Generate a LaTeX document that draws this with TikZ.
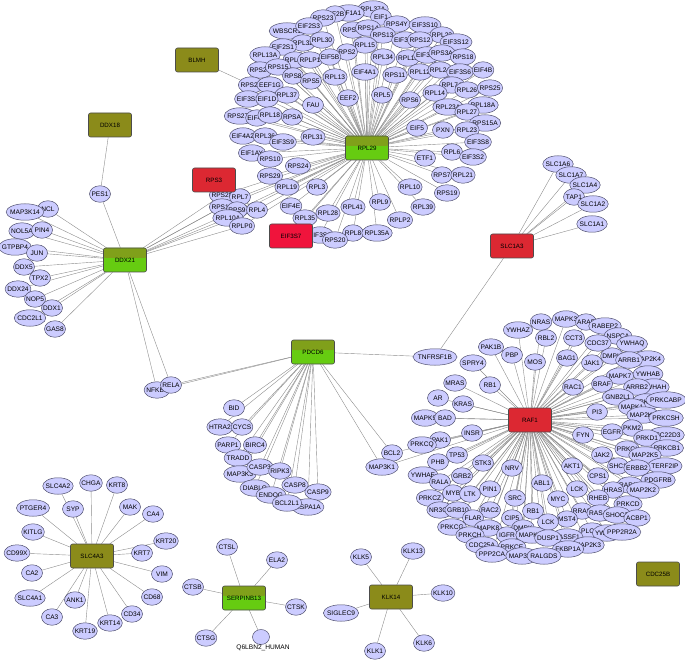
\documentclass[tikz,border=0pt]{standalone}
\usepackage{fontspec}
\setmainfont{Liberation Sans}
\usetikzlibrary{shapes.geometric,backgrounds}
\definecolor{genefill}{HTML}{CCCCFF}
\definecolor{geneline}{HTML}{50506E}
\definecolor{olivehub}{HTML}{8B8B1A}
\definecolor{redhub}{HTML}{DC2832}
\definecolor{pinkhub}{HTML}{F0143C}
\definecolor{greentop}{HTML}{80A01A}
\definecolor{greenbot}{HTML}{66CC11}
\definecolor{wirecol}{HTML}{8C8C8C}
\tikzset{
  gene/.style={ellipse, draw=geneline, fill=genefill, line width=0.5pt,
    inner xsep=-1.5pt, inner ysep=1pt, minimum height=16.5pt, minimum width=21pt,
    font=\fontsize{6.6}{7}\selectfont},
  hub/.style={rectangle, rounded corners=2pt, draw=black!70, line width=0.6pt,
    minimum width=43pt, minimum height=24pt, font=\fontsize{6.2}{7}\selectfont},
  olivebox/.style={hub, fill=olivehub},
  redbox/.style={hub, fill=redhub},
  pinkbox/.style={hub, fill=pinkhub},
  greenbox/.style={hub, fill=greenbot, path picture={\fill[greentop]
    (path picture bounding box.north west) rectangle ([yshift=2pt]path picture bounding box.east);}},
  wire/.style={draw=wirecol, line width=0.4pt}
}
\begin{document}
\begin{tikzpicture}[x=1pt,y=-1pt]
\useasboundingbox (0,0) rectangle (685,660);
% RPL29 cluster
\path node[gene] (rpl37a) at (373,9) {RPL37A}
node[gene] (eef1a1) at (349,13) {EEF1A1}
node[gene] (eif2b) at (335,14) {EIF2B}
node[gene] (eif1) at (381,17) {EIF1}
node[gene] (rps23) at (323,18) {RPS23}
node[gene] (wbscr1) at (287,31) {WBSCR1}
node[gene] (eif2s3) at (309,26) {EIF2S3}
node[gene] (rps16) at (353,30) {RPS16}
node[gene] (rps14) at (368,28) {RPS14}
node[gene] (rps4y) at (397,24) {RPS4Y}
node[gene] (eif3s10) at (425,25) {EIF3S10}
node[gene] (rpl22) at (442,35) {RPL22}
node[gene] (eif3s12) at (456,42) {EIF3S12}
node[gene] (rps13) at (383,35) {RPS13}
node[gene] (eif3s4) at (405,40) {EIF3S4}
node[gene] (rps12) at (420,40) {RPS12}
node[gene] (rpl32) at (303,43) {RPL32}
node[gene] (rpl30) at (322,40) {RPL30}
node[gene] (eif2s1) at (283,47) {EIF2S1}
node[gene] (rpl13a) at (265,55) {RPL13A}
node[gene] (rpl15) at (365,45) {RPL15}
node[gene] (rps2) at (347,52) {RPS2}
node[gene] (rpl34) at (383,57) {RPL34}
node[gene] (rpl11) at (408,58) {RPL11}
node[gene] (eif3s5) at (427,55) {EIF3S5}
node[gene] (rps3a) at (442,53) {RPS3A}
node[gene] (rps18) at (463,57) {RPS18}
node[gene] (rpl38) at (295,60) {RPL38}
node[gene] (rplp1) at (310,60) {RPLP1}
node[gene] (eif5b) at (330,57) {EIF5B}
node[gene] (rps27) at (260,70) {RPS27}
node[gene] (rps15) at (278,67) {RPS15}
node[gene] (eif4a1) at (365,72) {EIF4A1}
node[gene] (rps11) at (395,75) {RPS11}
node[gene] (rpl12) at (420,72) {RPL12}
node[gene] (rpl24) at (440,70) {RPL24}
node[gene] (eif3s6) at (460,72) {EIF3S6}
node[gene] (eif4b) at (483,70) {EIF4B}
node[gene] (rps8) at (293,76) {RPS8}
node[gene] (rpl13) at (335,77) {RPL13}
node[gene] (rps5) at (311,81) {RPS5}
node[gene] (rps21) at (251,85) {RPS21}
node[gene] (eef1g) at (270,85) {EEF1G}
node[gene] (rpl7a) at (452,85) {RPL7A}
node[gene] (rpl26) at (467,90) {RPL26}
node[gene] (rps25) at (490,88) {RPS25}
node[gene] (rpl14) at (435,93) {RPL14}
node[gene] (rpl5) at (382,95) {RPL5}
node[gene] (rpl37) at (287,95) {RPL37}
node[gene] (eef2) at (348,98) {EEF2}
node[gene] (eif3s3) at (248,99) {EIF3S3}
node[gene] (eif1d) at (267,99) {EIF1D}
node[gene] (rps6) at (410,100) {RPS6}
node[gene] (fau) at (313,105) {FAU}
node[gene] (rpl18a) at (483,105) {RPL18A}
node[gene] (rpl23a) at (448,107) {RPL23A}
node[gene] (rpl27) at (467,112) {RPL27}
node[gene] (rps27a) at (240,116) {RPS27A}
node[gene] (eif4g) at (257,118) {EIF4G}
node[gene] (rpl18) at (270,115) {RPL18}
node[gene] (rpsa) at (292,117) {RPSA}
node[gene] (rps15a) at (485,123) {RPS15A}
node[gene] (eif5) at (417,128) {EIF5}
node[gene] (pxn) at (443,130) {PXN}
node[gene] (rpl23) at (467,130) {RPL23}
node[gene] (eif4a2) at (243,136) {EIF4A2}
node[gene] (rpl36) at (265,136) {RPL36}
node[gene] (rpl31) at (313,137) {RPL31}
node[gene] (eif3s9) at (283,142) {EIF3S9}
node[gene] (eif3s8) at (478,142) {EIF3S8}
node[gene] (rpl6) at (452,152) {RPL6}
node[gene] (eif1ay) at (252,153) {EIF1AY}
node[gene] (etf1) at (425,158) {ETF1}
node[gene] (eif3s2) at (473,157) {EIF3S2}
node[gene] (rps10) at (270,159) {RPS10}
node[gene] (rps24) at (298,166) {RPS24}
node[gene] (rps29) at (270,176) {RPS29}
node[gene] (rps7) at (442,175) {RPS7}
node[gene] (rpl21) at (463,175) {RPL21}
node[gene] (rpl19) at (287,187) {RPL19}
node[gene] (rpl3) at (317,187) {RPL3}
node[gene] (rpl10) at (410,187) {RPL10}
node[gene] (rps19) at (447,193) {RPS19}
node[gene] (rps28) at (222,195) {RPS28}
node[gene] (rpl7) at (240,197) {RPL7}
node[gene] (rpl9) at (380,202) {RPL9}
node[gene] (rps17) at (222,207) {RPS17}
node[gene] (eif4e) at (291,206) {EIF4E}
node[gene] (rpl41) at (353,207) {RPL41}
node[gene] (rpl39) at (423,207) {RPL39}
node[gene] (rps9) at (237,210) {RPS9}
node[gene] (rpl4) at (257,210) {RPL4}
node[gene] (rpl28) at (328,213) {RPL28}
node[gene] (rpl10a) at (228,218) {RPL10A}
node[gene] (rpl35) at (305,218) {RPL35}
node[gene] (rplp2) at (400,220) {RPLP2}
node[gene] (rplp0) at (242,226) {RPLP0}
node[gene] (rpl8) at (353,233) {RPL8}
node[gene] (rpl35a) at (377,233) {RPL35A}
node[gene] (eif3s1) at (320,235) {EIF3S1}
node[gene] (rps20) at (335,240) {RPS20}
;
% DDX21 cluster
\path node[gene] (ncl) at (48,209) {NCL}
node[gene] (map3k14) at (25,212) {MAP3K14}
node[gene] (pes1) at (100,194) {PES1}
node[gene] (nol5a) at (22,231) {NOL5A}
node[gene] (pin4) at (42,230) {PIN4}
node[gene] (gtpbp4) at (15,247) {GTPBP4}
node[gene] (jun) at (37,253) {JUN}
node[gene] (ddx5) at (24,267) {DDX5}
node[gene] (tpx2) at (40,278) {TPX2}
node[gene] (ddx24) at (18,289) {DDX24}
node[gene] (nop5) at (35,299) {NOP5}
node[gene] (ddx1) at (52,308) {DDX1}
node[gene] (cdc2l1) at (30,318) {CDC2L1}
node[gene] (gas8) at (55,329) {GAS8}
node[gene] (nfkb1) at (157,390) {NFKB1}
node[gene] (rela) at (171,385) {RELA}
;
% SLC1A3 cluster
\path node[gene] (slc1a6) at (558,164) {SLC1A6}
node[gene] (slc1a7) at (571,175) {SLC1A7}
node[gene] (slc1a4) at (585,185) {SLC1A4}
node[gene] (tap1) at (574,197) {TAP1}
node[gene] (slc1a2) at (593,204) {SLC1A2}
node[gene] (slc1a1) at (592,224) {SLC1A1}
node[gene] (tnfrsf1b) at (435,357) {TNFRSF1B}
;
% PDCD6 cluster
\path node[gene] (bid) at (234,408) {BID}
node[gene] (htra2) at (220,427) {HTRA2}
node[gene] (cycs) at (242,427) {CYCS}
node[gene] (parp1) at (228,445) {PARP1}
node[gene] (birc4) at (255,445) {BIRC4}
node[gene] (tradd) at (238,458) {TRADD}
node[gene] (map3k3) at (240,474) {MAP3K3}
node[gene] (casp3) at (260,467) {CASP3}
node[gene] (ripk3) at (280,471) {RIPK3}
node[gene] (diablo) at (255,488) {DIABLO}
node[gene] (casp8) at (295,485) {CASP8}
node[gene] (endog) at (271,495) {ENDOG}
node[gene] (casp9) at (318,492) {CASP9}
node[gene] (hspa1a) at (308,507) {HSPA1A}
node[gene] (bcl2l1) at (287,503) {BCL2L1}
node[gene] (bcl2) at (392,453) {BCL2}
node[gene] (map3k1) at (382,467) {MAP3K1}
;
% RAF1 cluster
\path node[gene] (mapk3) at (566,319) {MAPK3}
node[gene] (nras) at (541,322) {NRAS}
node[gene] (araf) at (586,322) {ARAF}
node[gene] (rabep2) at (605,326) {RABEP2}
node[gene] (ywhaz) at (518,330) {YWHAZ}
node[gene] (nspca) at (618,336) {NSPCA}
node[gene] (rbl2) at (546,338) {RBL2}
node[gene] (cct3) at (574,338) {CCT3}
node[gene] (cdc37) at (598,343) {CDC37}
node[gene] (ywhaq) at (632,344) {YWHAQ}
node[gene] (pak1b) at (491,347) {PAK1B}
node[gene] (pbp) at (512,355) {PBP}
node[gene] (dmpk) at (612,356) {DMPK}
node[gene] (map2k4) at (648,359) {MAP2K4}
node[gene] (arrb1) at (629,360) {ARRB1}
node[gene] (bag1) at (567,358) {BAG1}
node[gene] (mos) at (535,362) {MOS}
node[gene] (spry4) at (473,363) {SPRY4}
node[gene] (jak1) at (592,363) {JAK1}
node[gene] (mapk7) at (620,376) {MAPK7}
node[gene] (ywhab) at (648,374) {YWHAB}
node[gene] (mras) at (455,383) {MRAS}
node[gene] (rb1a) at (490,385) {RB1}
node[gene] (braf) at (602,384) {BRAF}
node[gene] (rac1) at (573,387) {RAC1}
node[gene] (ywhah) at (654,387) {YWHAH}
node[gene] (arrb2) at (637,387) {ARRB2}
node[gene] (ar) at (438,398) {AR}
node[gene] (gnb2) at (618,397) {GNB2L1}
node[gene] (prkca) at (646,402) {PRKCA}
node[gene] (prkcabp) at (666,400) {PRKCABP}
node[gene] (kras) at (463,404) {KRAS}
node[gene] (mapk1) at (632,407) {MAPK1}
node[gene] (pi3) at (597,412) {PI3}
node[gene] (map2k1) at (643,415) {MAP2K1}
node[gene] (prkcsh) at (666,418) {PRKCSH}
node[gene] (mapk9) at (425,418) {MAPK9}
node[gene] (bad) at (445,418) {BAD}
node[gene] (pkm2) at (632,428) {PKM2}
node[gene] (egfr) at (612,432) {EGFR}
node[gene] (fyn) at (583,435) {FYN}
node[gene] (tsc22d3) at (666,435) {TSC22D3}
node[gene] (prkd1) at (647,438) {PRKD1}
node[gene] (insr) at (472,433) {INSR}
node[gene] (pak1) at (440,440) {PAK1}
node[gene] (prkcq) at (422,445) {PRKCQ}
node[gene] (prkcb1) at (667,448) {PRKCB1}
node[gene] (prkci) at (627,449) {PRKCI}
node[gene] (map2k5) at (645,455) {MAP2K5}
node[gene] (jak2) at (602,455) {JAK2}
node[gene] (tp53) at (457,455) {TP53}
node[gene] (phb) at (438,462) {PHB}
node[gene] (stk3) at (483,463) {STK3}
node[gene] (nrv) at (512,468) {NRV}
node[gene] (akt1) at (572,466) {AKT1}
node[gene] (shc1) at (618,466) {SHC1}
node[gene] (terf2ip) at (665,466) {TERF2IP}
node[gene] (erbb2) at (637,468) {ERBB2}
node[gene] (ywhae) at (423,475) {YWHAE}
node[gene] (grb2) at (462,476) {GRB2}
node[gene] (cps1) at (598,476) {CPS1}
node[gene] (pdgfrb) at (658,480) {PDGFRB}
node[gene] (rala) at (440,482) {RALA}
node[gene] (abl1) at (542,483) {ABL1}
node[gene] (rap1a) at (630,485) {RAP1A}
node[gene] (lcka) at (577,489) {LCK}
node[gene] (pin1) at (490,489) {PIN1}
node[gene] (hras) at (613,490) {HRAS}
node[gene] (map2k2) at (643,490) {MAP2K2}
node[gene] (myb) at (453,493) {MYB}
node[gene] (ltk) at (470,494) {LTK}
node[gene] (prkcz) at (430,498) {PRKCZ}
node[gene] (src) at (515,498) {SRC}
node[gene] (rheb) at (598,498) {RHEB}
node[gene] (myc) at (558,499) {MYC}
node[gene] (prkcd) at (628,504) {PRKCD}
node[gene] (nr3c1) at (440,510) {NR3C1}
node[gene] (grb10) at (458,510) {GRB10}
node[gene] (rac2) at (490,510) {RAC2}
node[gene] (rras) at (582,511) {RRAS}
node[gene] (rb1b) at (533,511) {RB1}
node[gene] (rasa1) at (600,513) {RASA1}
node[gene] (shoc2) at (617,515) {SHOC2}
node[gene] (acbp1) at (637,518) {ACBP1}
node[gene] (flar) at (473,518) {FLAR}
node[gene] (cip5) at (512,518) {CIP5}
node[gene] (mst4) at (567,519) {MST4}
node[gene] (lckb) at (548,522) {LCK}
node[gene] (prkcg) at (452,527) {PRKCG}
node[gene] (mapk8) at (488,528) {MAPK8}
node[gene] (dmpkb) at (523,528) {DMPK}
node[gene] (plcg1) at (592,531) {PLCG1}
node[gene] (ywhaf) at (607,533) {YWHAF}
node[gene] (ppp2r2a) at (622,532) {PPP2R2A}
node[gene] (prkch) at (470,535) {PRKCH}
node[gene] (igfr) at (507,535) {IGFR}
node[gene] (mapk14) at (532,535) {MAPK14}
node[gene] (rassf1) at (567,537) {RASSF1}
node[gene] (dusp1) at (548,538) {DUSP1}
node[gene] (map2k3) at (588,545) {MAP2K3}
node[gene] (cdc25a) at (482,545) {CDC25A}
node[gene] (prkce) at (512,547) {PRKCE}
node[gene] (fkbp1a) at (568,549) {FKBP1A}
node[gene] (ppp2ca) at (492,554) {PPP2CA}
node[gene] (map3k5) at (522,556) {MAP3K5}
node[gene] (ralgds) at (544,556) {RALGDS}
;
% SLC4A3 cluster
\path node[gene] (chga) at (91,483) {CHGA}
node[gene] (slc4a2) at (58,486) {SLC4A2}
node[gene] (krt8) at (117,485) {KRT8}
node[gene] (ptger4) at (33,508) {PTGER4}
node[gene] (syp) at (73,509) {SYP}
node[gene] (mak) at (130,507) {MAK}
node[gene] (ca4) at (153,514) {CA4}
node[gene] (kitlg) at (33,532) {KITLG}
node[gene] (krt20) at (166,541) {KRT20}
node[gene] (cd99x) at (17,553) {CD99X}
node[gene] (krt7) at (142,553) {KRT7}
node[gene] (ca2) at (32,573) {CA2}
node[gene] (vim) at (162,574) {VIM}
node[gene] (slc4a1) at (30,598) {SLC4A1}
node[gene] (ank1) at (75,600) {ANK1}
node[gene] (cd68) at (152,597) {CD68}
node[gene] (ca3) at (52,617) {CA3}
node[gene] (cd34) at (132,614) {CD34}
node[gene] (krt14) at (110,623) {KRT14}
node[gene] (krt19) at (85,631) {KRT19}
;
% SERPINB13 and KLK14 clusters
\path node[gene] (ctsl) at (227,547) {CTSL}
node[gene] (ela2) at (277,560) {ELA2}
node[gene] (ctsb) at (193,587) {CTSB}
node[gene] (ctsk) at (296,607) {CTSK}
node[gene] (ctsg) at (206,638) {CTSG}
node[gene, minimum width=17pt, minimum height=15pt] (q6lbn2) at (261,637) {}
node[font=\fontsize{6.6}{7}\selectfont, inner sep=0pt] (q6text) at (263,648) {Q6LBN2\_HUMAN}
node[gene] (klk13) at (413,551) {KLK13}
node[gene] (klk5) at (361,557) {KLK5}
node[gene] (klk10) at (443,593) {KLK10}
node[gene] (siglec9) at (341,613) {SIGLEC9}
node[gene] (klk6) at (424,643) {KLK6}
node[gene] (klk1) at (375,651) {KLK1}
;
% hubs
\path node[olivebox] (blmh) at (197,60) {BLMH}
node[olivebox] (ddx18) at (110,125) {DDX18}
node[greenbox] (rpl29) at (367,148) {RPL29}
node[redbox] (rps3) at (214,180) {RPS3}
node[pinkbox] (eif3s7) at (291,236) {EIF3S7}
node[greenbox] (ddx21) at (125,260) {DDX21}
node[redbox] (slc1a3) at (512,246) {SLC1A3}
node[greenbox] (pdcd6) at (313,352) {PDCD6}
node[redbox] (raf1) at (530,420) {RAF1}
node[olivebox] (cdc25b) at (658,574) {CDC25B}
node[olivebox] (slc4a3) at (92,556) {SLC4A3}
node[greenbox] (serpinb13) at (244,598) {SERPINB13}
node[olivebox] (klk14) at (391,597) {KLK14}
;
\begin{pgfonlayer}{background}
\foreach \g in {rpl37a,eef1a1,eif2b,eif1,rps23,wbscr1,eif2s3,rps16,rps14,rps4y,eif3s10,
  rpl22,eif3s12,rps13,eif3s4,rps12,rpl32,rpl30,eif2s1,rpl13a,rpl15,rps2,rpl34,rpl11,
  eif3s5,rps3a,rps18,rpl38,rplp1,eif5b,rps27,rps15,eif4a1,rps11,rpl12,rpl24,eif3s6,
  eif4b,rps8,rpl13,rps5,rps21,eef1g,rpl7a,rpl26,rps25,rpl14,rpl5,rpl37,eef2,eif3s3,
  eif1d,rps6,fau,rpl18a,rpl23a,rpl27,rps27a,eif4g,rpl18,rpsa,rps15a,eif5,pxn,rpl23,
  eif4a2,rpl36,rpl31,eif3s9,eif3s8,rpl6,eif1ay,etf1,eif3s2,rps10,rps24,rps29,rps7,
  rpl21,rpl19,rpl3,rpl10,rps19,rps28,rpl7,rpl9,rps17,eif4e,rpl41,rpl39,rps9,rpl4,
  rpl28,rpl10a,rpl35,rplp2,rplp0,rpl8,rpl35a,eif3s1,rps20,eif3s7}
  \draw[wire] (rpl29) -- (\g);
\foreach \g in {rps28,rpl7,rps17,rps9,rpl4,rpl10a,rplp0}
  \draw[wire] (rps3) -- (\g);
\foreach \g in {ncl,map3k14,pes1,nol5a,pin4,gtpbp4,jun,ddx5,tpx2,ddx24,nop5,ddx1,
  cdc2l1,gas8,nfkb1,rela,rps28,rpl7,rps17,rps9,rpl4,rpl10a,rplp0}
  \draw[wire] (ddx21) -- (\g);
\draw[wire] (blmh) -- (rps21);
\draw[wire] (ddx18) -- (pes1);
\draw[wire] (eif3s7) -- (eif3s1);
\foreach \g in {slc1a6,slc1a7,slc1a4,tap1,slc1a2,slc1a1,tnfrsf1b}
  \draw[wire] (slc1a3) -- (\g);
\foreach \g in {tnfrsf1b,rela,nfkb1,bid,htra2,cycs,parp1,birc4,tradd,map3k3,casp3,
  ripk3,diablo,casp8,endog,casp9,hspa1a,bcl2l1,bcl2,map3k1}
  \draw[wire] (pdcd6) -- (\g);
\foreach \g in {mapk3,nras,araf,rabep2,ywhaz,nspca,rbl2,cct3,cdc37,ywhaq,pak1b,pbp,
  dmpk,map2k4,arrb1,bag1,mos,spry4,jak1,mapk7,ywhab,mras,rb1a,braf,rac1,ywhah,arrb2,
  ar,gnb2,prkca,prkcabp,kras,mapk1,pi3,map2k1,prkcsh,mapk9,bad,pkm2,egfr,fyn,tsc22d3,
  prkd1,insr,pak1,prkcq,prkcb1,prkci,map2k5,jak2,tp53,phb,stk3,nrv,akt1,shc1,terf2ip,
  erbb2,ywhae,grb2,cps1,pdgfrb,rala,abl1,rap1a,lcka,pin1,hras,map2k2,myb,ltk,prkcz,
  src,rheb,myc,prkcd,nr3c1,grb10,rac2,rras,rb1b,rasa1,shoc2,acbp1,flar,cip5,mst4,lckb,
  prkcg,mapk8,dmpkb,plcg1,ywhaf,ppp2r2a,prkch,igfr,mapk14,rassf1,dusp1,map2k3,cdc25a,
  prkce,fkbp1a,ppp2ca,map3k5,ralgds,bcl2,map3k1}
  \draw[wire] (raf1) -- (\g);
\foreach \g in {chga,slc4a2,krt8,ptger4,syp,mak,ca4,kitlg,krt20,cd99x,krt7,ca2,vim,
  slc4a1,ank1,cd68,ca3,cd34,krt14,krt19}
  \draw[wire] (slc4a3) -- (\g);
\foreach \g in {ctsl,ela2,ctsb,ctsk,ctsg,q6lbn2}
  \draw[wire] (serpinb13) -- (\g);
\foreach \g in {klk13,klk5,klk10,siglec9,klk6,klk1}
  \draw[wire] (klk14) -- (\g);
\end{pgfonlayer}
\end{tikzpicture}
\end{document}
